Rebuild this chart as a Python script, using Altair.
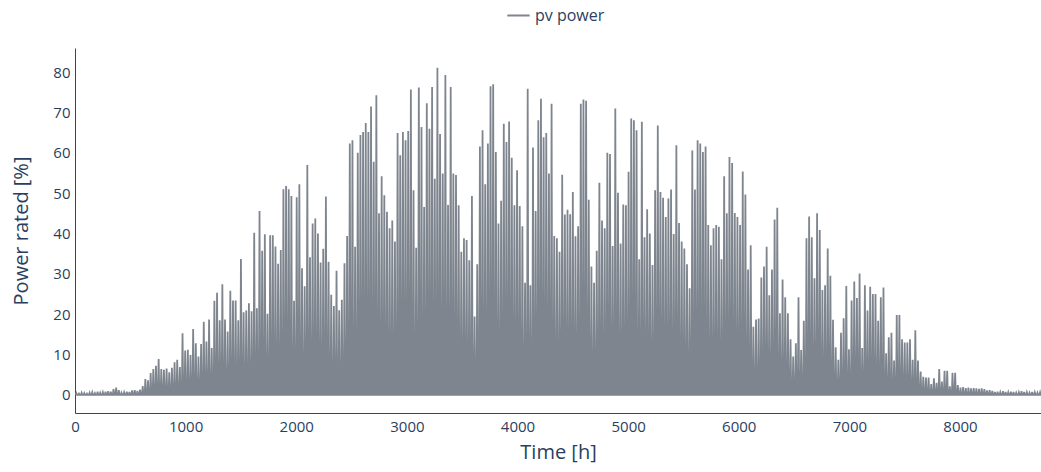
import altair as alt
import pandas as pd

# Daily peak of the PV output [% of rated power], one value per day (day 0 .. 364),
# read from the reference chart.
daily_peak = [
    0.4, 0.3, 0.5, 0.4, 0.3, 0.5, 0.6, 0.4, 0.8, 0.5,
    0.6, 0.8, 0.9, 0.8, 1.4, 1.8, 1.2, 0.5, 0.6, 0.8,
    0.7, 1.1, 1.2, 1.0, 1.3, 2.2, 3.9, 3.6, 5.4, 6.4,
    7.2, 8.9, 6.4, 6.2, 6.5, 5.6, 6.7, 8.1, 8.7, 6.9,
    15.3, 11.0, 11.2, 9.9, 16.3, 12.8, 9.5, 12.6, 18.1, 13.2,
    18.7, 11.6, 23.3, 25.3, 18.5, 27.4, 18.7, 15.7, 25.8, 23.4,
    23.4, 18.5, 33.7, 20.5, 20.9, 22.7, 20.7, 40.2, 21.5, 45.6,
    35.7, 39.8, 20.1, 39.6, 39.6, 36.8, 32.5, 35.9, 51.0, 51.8,
    51.0, 49.3, 23.3, 49.0, 52.2, 31.4, 26.9, 57.0, 34.1, 42.5,
    43.7, 40.0, 32.8, 36.2, 49.2, 33.0, 24.8, 22.0, 30.8, 21.0,
    23.6, 32.6, 39.4, 62.3, 63.1, 36.7, 60.0, 64.4, 65.2, 67.4,
    65.2, 71.5, 57.8, 74.3, 45.0, 54.2, 49.5, 45.4, 41.3, 43.2,
    38.0, 64.9, 59.4, 65.2, 63.1, 65.4, 75.7, 50.7, 36.5, 76.2,
    66.4, 46.6, 72.3, 66.0, 76.3, 53.6, 81.1, 64.7, 54.9, 79.3,
    47.1, 76.3, 54.9, 54.5, 47.0, 35.5, 38.8, 38.4, 33.4, 49.3,
    19.4, 32.4, 61.6, 65.6, 52.2, 62.3, 76.5, 77.0, 60.2, 42.5,
    48.1, 67.2, 62.7, 67.8, 58.8, 47.0, 55.7, 46.8, 41.8, 27.8,
    75.9, 27.2, 61.3, 45.6, 68.1, 73.4, 63.9, 64.9, 54.9, 72.2,
    39.4, 38.8, 35.5, 54.6, 44.7, 45.9, 44.8, 50.3, 39.3, 41.8,
    72.2, 73.2, 72.9, 48.4, 31.8, 27.8, 35.7, 52.6, 43.2, 41.3,
    60.0, 59.7, 36.9, 71.0, 50.1, 37.5, 47.2, 47.0, 55.3, 68.5,
    68.1, 65.6, 33.6, 67.7, 39.1, 46.0, 40.0, 32.2, 50.7, 66.8,
    50.3, 48.9, 44.1, 48.7, 50.9, 39.9, 61.9, 42.6, 38.0, 36.3,
    32.4, 26.4, 60.6, 50.9, 63.1, 62.3, 60.2, 61.6, 42.1, 37.1,
    41.3, 42.1, 41.7, 33.6, 54.2, 45.0, 59.0, 57.5, 45.1, 44.1,
    42.1, 55.4, 49.7, 31.1, 37.1, 16.9, 18.7, 18.9, 29.1, 31.8,
    36.7, 24.7, 31.1, 43.5, 46.4, 20.2, 28.6, 24.2, 20.2, 13.8,
    9.5, 12.8, 24.2, 11.1, 18.4, 38.8, 44.2, 39.1, 28.9, 45.0,
    40.9, 26.0, 27.2, 36.3, 29.5, 18.6, 11.8, 8.7, 15.4, 19.0,
    27.0, 11.3, 23.4, 28.1, 24.0, 30.1, 11.6, 27.2, 20.9, 26.8,
    25.0, 25.0, 18.4, 24.2, 26.6, 10.3, 14.3, 15.4, 8.5, 19.8,
    19.8, 13.8, 13.0, 13.0, 13.8, 8.7, 16.0, 8.5, 5.8, 4.5,
    4.3, 4.3, 2.7, 4.1, 3.0, 6.4, 3.3, 6.0, 6.0, 2.1,
    5.5, 5.5, 2.4, 1.8, 1.9, 1.7, 1.8, 1.6, 1.7, 1.6,
    1.5, 1.6, 1.4, 1.1, 1.2, 1.0, 0.7, 0.8, 0.6, 0.9,
    0.7, 0.6, 0.8, 0.7, 0.5, 0.6, 0.9, 0.7, 0.6, 0.5,
    0.7, 0.6, 0.5, 0.6, 0.5,
]

# Hours of the day at which the daily profile starts, peaks and ends
sunrise_hour = 6
noon_hour = 12
sunset_hour = 18

x_ticks = [0, 1000, 2000, 3000, 4000, 5000, 6000, 7000, 8000]
y_ticks = [0, 10, 20, 30, 40, 50, 60, 70, 80]
series_name = "pv power"
line_color = "#7e858e"
text_color = "#2a3f5f"

rows = []
for d, p in enumerate(daily_peak):
    rows.append({"hour": d * 24 + sunrise_hour, "power": 0.0, "series": series_name})
    rows.append({"hour": d * 24 + noon_hour, "power": p, "series": series_name})
    rows.append({"hour": d * 24 + sunset_hour, "power": 0.0, "series": series_name})
df = pd.DataFrame(rows)

font = "Open Sans"

chart = alt.Chart(df).mark_line(strokeWidth=1.8, clip=True).encode(
    x=alt.X(
        "hour:Q",
        scale=alt.Scale(domain=[0, 8732], nice=False, zero=False),
        axis=alt.Axis(
            values=x_ticks, title="Time [h]", grid=False, ticks=False, tickSize=0,
            labelPadding=6, labelFontSize=15, labelColor=text_color, labelFont=font,
            titleFontSize=20, titleFontWeight="normal", titleColor=text_color,
            titleFont=font, titlePadding=8, domainColor="#444444", format="d",
            labelFlush=False,
        ),
    ),
    y=alt.Y(
        "power:Q",
        scale=alt.Scale(domain=[-4.5, 86], nice=False, zero=False),
        axis=alt.Axis(
            values=y_ticks, title="Power rated [%]", grid=False, ticks=False, tickSize=0,
            labelPadding=5, labelFontSize=15, labelColor=text_color, labelFont=font,
            titleFontSize=20, titleFontWeight="normal", titleColor=text_color,
            titleFont=font, titlePadding=21, domainColor="#444444",
        ),
    ),
    color=alt.Color(
        "series:N",
        scale=alt.Scale(domain=[series_name], range=[line_color]),
        legend=alt.Legend(
            title=None, orient="none", legendX=431, legendY=-45,
            symbolType="stroke", symbolStrokeWidth=2, symbolSize=500,
            labelFontSize=16, labelColor=text_color, labelFont=font,
        ),
    ),
    order="hour:Q",
).properties(
    width=966,
    height=365,
    autosize=alt.AutoSizeParams(type="none"),
    padding={"left": 75, "top": 48, "right": 0, "bottom": 59},
).configure_view(stroke=None)

chart.save("out.html", embed_options={"renderer": "svg", "actions": False})
